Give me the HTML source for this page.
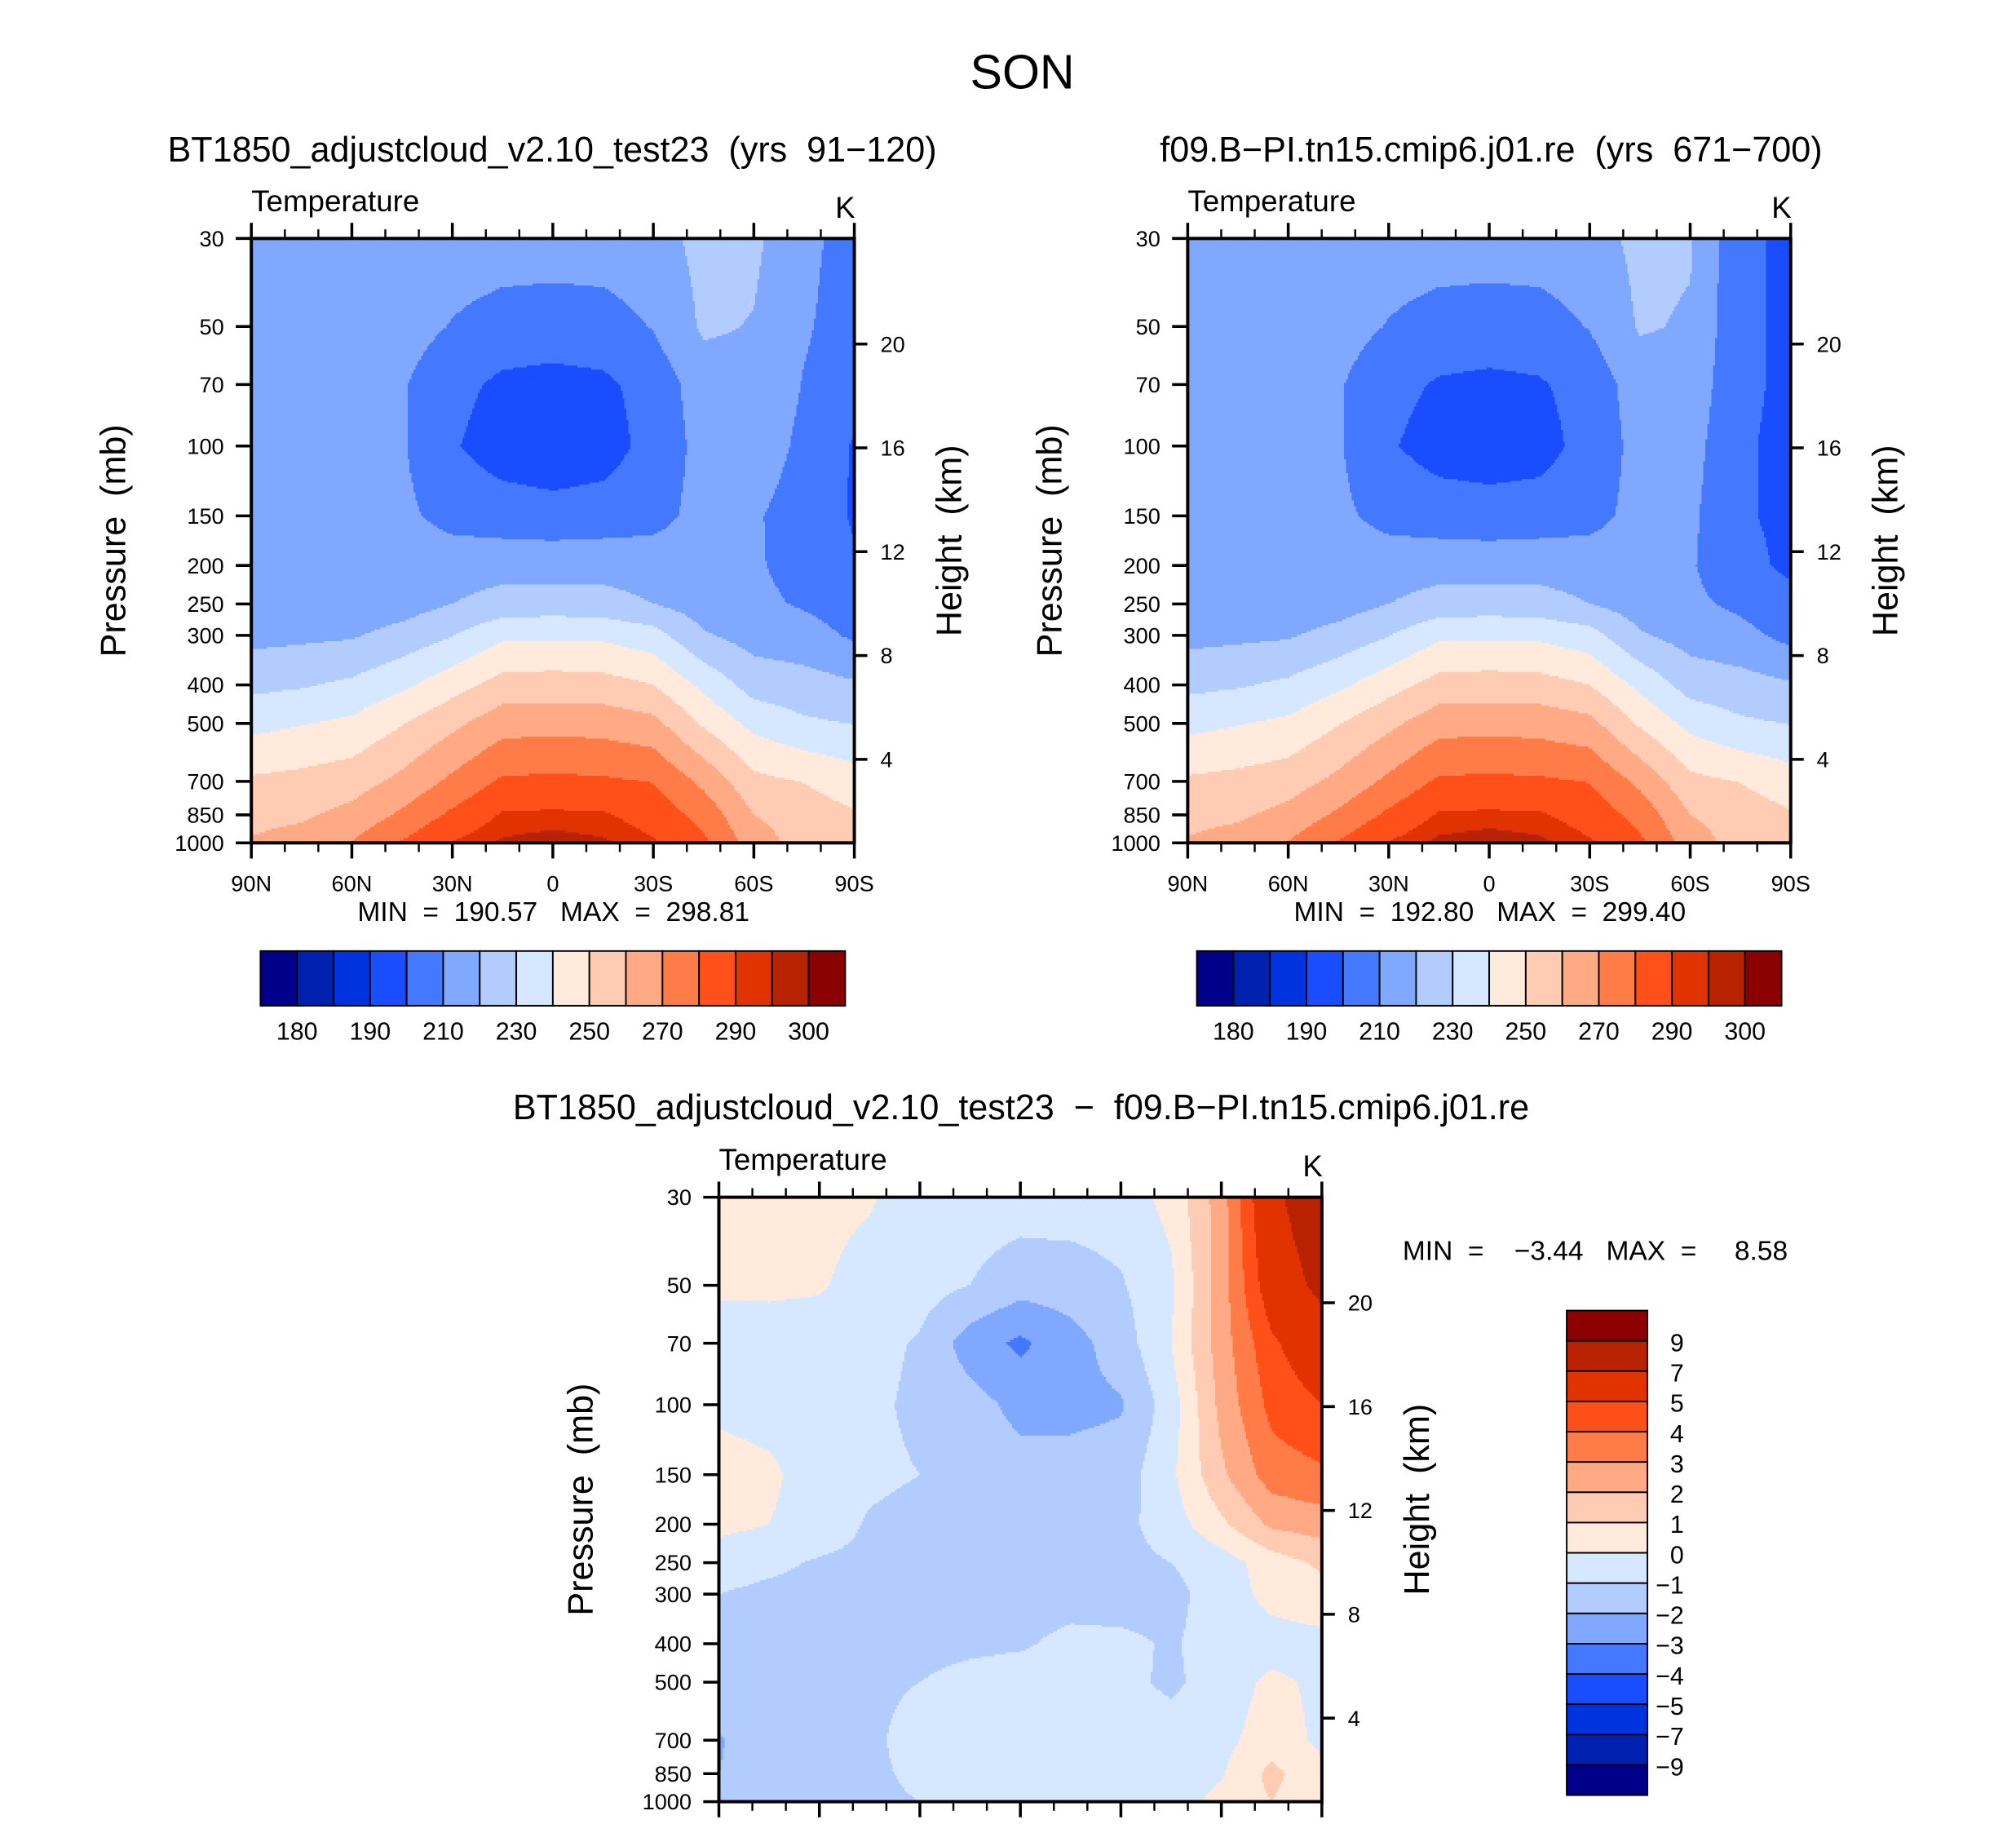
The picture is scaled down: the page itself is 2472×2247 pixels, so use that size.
<!DOCTYPE html>
<html><head><meta charset="utf-8">
<style>
html,body{margin:0;padding:0;background:#fff;}
svg{display:block;}
text{font-family:"Liberation Sans","DejaVu Sans",sans-serif;fill:#000;white-space:pre;}
</style></head>
<body>
<svg id="fig" xmlns="http://www.w3.org/2000/svg" width="2472" height="2247" viewBox="0 0 1548 1407">
<rect x="0" y="0" width="1548" height="1407" fill="#fff"/>
<text x="785" y="68" font-size="37" text-anchor="middle">SON</text>
<text x="424" y="124" font-size="27" text-anchor="middle">BT1850_adjustcloud_v2.10_test23  (yrs  91−120)</text>
<text x="1145" y="124" font-size="27" text-anchor="middle">f09.B−PI.tn15.cmip6.j01.re  (yrs  671−700)</text>
<text x="784" y="859" font-size="27" text-anchor="middle">BT1850_adjustcloud_v2.10_test23  −  f09.B−PI.tn15.cmip6.j01.re</text>
<g id="layer"></g>
</svg>
<script>
// ---- data ----
const lats = [90,75,60,45,30,15,0,-15,-30,-45,-60,-75,-90];
const pressures = [30,50,70,100,150,200,250,300,400,500,700,850,1000];
const latTicks = ["90N","60N","30N","0","30S","60S","90S"];
const kmTicks = [4,8,12,16,20];
const tempLevels = [180,185,190,200,210,220,230,240,250,260,270,280,290,295,300];
const tempLabels = ["180","190","210","230","250","270","290","300"];
const diffLevels = [-9,-7,-5,-4,-3,-2,-1,0,1,2,3,4,5,7,9];
const diffLabels = ["−9","−7","−5","−4","−3","−2","−1","0","1","2","3","4","5","7","9"];
const colors = ["#00008b","#0020b0","#0033e0","#1a4dff","#4478ff","#80a8ff","#b3ccff","#d6e8ff",
 "#ffeadb","#ffcbb3","#ffaa85","#ff7b47","#ff5019","#e03300","#b82200","#8b0000"];

const temp1 = [
[215,215,215,215,215,215,215,215,216,223,222,212,207],
[215,215,215,214,209.5,206,205,206,210.5,221.5,219.5,211,206],
[215,215,215,211,203,198,197,198,204,215,217,209.5,205],
[215,215,215,211,201,195,193,195,204,213,215,208,199],
[215,215,215,212,207,205,204,205,207,213,211,206,199],
[215,215,215,215,215,216,216,216,215,214,211,207,201],
[215,215.5,214,215.5,220,224,224.5,224,220,215,212,209,205],
[217,218,219,223.5,229.6,238,238.5,238,234,221,216,214,208.5],
[227.5,229,232,238,246,254,254.5,254,250,237.5,225.7,224,221.4],
[237,239.5,242,249.6,257.6,266,266.5,266,263,248.6,237,231.6,229.7],
[251.5,253,255.5,262.6,272.2,281.5,282,281.5,279.6,267.6,252.6,249.7,244.7],
[257,258.5,263,271.8,282,291,291.5,291,286,276.7,260,255,251],
[261,264,270.5,280.8,290.5,296,298,296,291,282,265,256,253]];
const temp2 = [
[215,215,215,215,215,215,215,215,216,222.5,221,202,198],
[215,215,215,214,209.5,206,205,206,210.5,221,219,202,198],
[215,215,215,211,203,199,198,199,204,215,216.5,202,198],
[215,215,215,211,201,196,195,196,204,213,214,201,198],
[215,215,215,212,207,205,204,205,207,213,212,201,198],
[215,215,215,215,215,216,216,216,215,214,211,203,198],
[215,215.5,214,215.5,220,224,224.5,224,220,215,212,208,203],
[217,218,219,223.5,229.6,238,238.5,238,234,221,216,213,207],
[227.5,229,232,238,246,254,254.5,254,250,237.5,225.7,224,221],
[237,239.5,242,249.6,257.6,266,266.5,266,263,248.6,237,231.6,229.7],
[251.5,253,255.5,262.6,272.2,281.5,282,281.5,279.6,267.6,252.6,249.7,244.7],
[257,258.5,263,271.8,282,291,291.5,291,286,276.7,260,255,251],
[261,264,270.5,280.8,290.5,296.5,298.5,296.5,291,282,265,256,253]];
const diffVals = [
[0.3,0.3,0.3,0.1,-0.5,-0.5,-0.5,-0.5,-0.5,0.3,2.5,6.5,8.5],
[0.2,0.2,0.1,-0.4,-0.6,-1.0,-1.6,-1.5,-1.1,-0.2,2.5,5.8,7.5],
[-0.6,-0.5,-0.5,-0.7,-1.1,-2.5,-3.2,-2.4,-1.5,0.0,2.5,4.8,6],
[-0.2,-0.4,-0.6,-0.8,-1.2,-1.6,-2.3,-2.3,-2.1,-0.5,2.3,4.3,5],
[0.4,0.2,-0.5,-0.8,-1.0,-1.5,-1.6,-1.6,-1.5,-0.2,1.8,3.5,3.8],
[0.3,0.0,-0.5,-1.1,-1.3,-1.4,-1.4,-1.4,-1.3,-0.5,0.8,2.2,2.5],
[-0.6,-0.8,-1.1,-1.2,-1.3,-1.3,-1.3,-1.3,-1.3,-1.0,-0.5,0.5,1.2],
[-1.0,-1.2,-1.3,-1.3,-1.3,-1.3,-1.3,-1.3,-1.4,-1.3,-0.5,0.3,0.6],
[-1.2,-1.3,-1.3,-1.3,-1.3,-1.2,-1.1,-0.8,-0.8,-1.1,-0.6,-0.4,-0.3],
[-1.3,-1.2,-1.2,-1.1,-1.0,-0.7,-0.6,-0.6,-0.7,-1.2,-0.5,0.2,-0.2],
[-2.1,-1.3,-1.2,-1.1,-0.8,-0.6,-0.5,-0.5,-0.5,-0.5,-0.3,0.5,-0.2],
[-2.0,-1.3,-1.2,-1.1,-0.9,-0.5,-0.5,-0.5,-0.5,-0.5,-0.1,1.3,0.2],
[-1.3,-1.1,-1.1,-1.1,-1.0,-0.5,-0.5,-0.5,-0.5,-0.5,0.3,1.0,0.2]];

const NS="http://www.w3.org/2000/svg";
const layer=document.getElementById('layer');
function mk(tag,attrs,parent){const e=document.createElementNS(NS,tag);for(const k in attrs)e.setAttribute(k,attrs[k]);(parent||layer).appendChild(e);return e;}
function txt(s,x,y,size,anchor,parent){const t=mk('text',{x:x,y:y,'font-size':size,'text-anchor':anchor||'middle'},parent);t.textContent=s;return t;}

const PW=463, PH=464;
function yOfP(p,y0){return y0+PH*Math.log(p/30)/Math.log(1000/30);}
function xOfLat(lat,x0){return x0+PW*(90-lat)/180;}
function pOfKm(z){return 1125*Math.exp(-z/6.64);}
function levelIdx(v,levels){let i=0;while(i<levels.length&&v>=levels[i])i++;return i;}

function drawPanel(x0,y0,grid,levels,name,minmax,mmPos){
  const g=mk('g',{});
  
  
  const field=mk('g',{'shape-rendering':'crispEdges'},g);
  
  
  const rowY=pressures.map(p=>yOfP(p,y0));
  const colX=lats.map(l=>xOfLat(l,x0));
  const step=1.5;
  const nx=Math.ceil(PW/step);
  for(let yy=y0;yy<y0+PH;yy+=step){
    const yc=Math.min(yy+step/2,y0+PH);
    const hh=Math.min(step,y0+PH-yy);
    let r=0;while(r<rowY.length-2&&yc>rowY[r+1])r++;
    const ty=(yc-rowY[r])/(rowY[r+1]-rowY[r]);
    let runStart=x0,runCol=null;
    for(let i=0;i<=nx;i++){
      const xx=x0+i*step;
      let col=null;
      if(i<nx){
        const xc=Math.min(xx+step/2,x0+PW);
        let c=0;while(c<colX.length-2&&xc>colX[c+1])c++;
        const tx=(xc-colX[c])/(colX[c+1]-colX[c]);
        const v=(1-ty)*((1-tx)*grid[r][c]+tx*grid[r][c+1])+ty*((1-tx)*grid[r+1][c]+tx*grid[r+1][c+1]);
        col=colors[levelIdx(v,levels)];
      }
      if(col!==runCol){
        if(runCol!==null){
          const xe=Math.min(xx,x0+PW);
          const rc=mk('rect',{x:runStart,y:yy,width:xe-runStart+0.4,height:hh+0.4,fill:runCol},field);
          
          
        }
        runStart=xx;runCol=col;
      }
    }
  }
  const fr=mk('rect',{x:x0,y:y0,width:PW,height:PH,fill:'none',stroke:'#000','stroke-width':2.5},g);
  
  
  for(let lat=90;lat>=-90;lat-=10){
    const x=xOfLat(lat,x0);const major=(lat%30===0);const L=major?12:7;
    mk('line',{x1:x,y1:y0,x2:x,y2:y0-L,stroke:'#000','stroke-width':major?2.2:1.5},g);
    mk('line',{x1:x,y1:y0+PH,x2:x,y2:y0+PH+L,stroke:'#000','stroke-width':major?2.2:1.5},g);
  }
  latTicks.forEach((s,i)=>{const t=txt(s,x0+PW*i/6,y0+PH+37,17,'middle',g);
    });
  pressures.forEach(p=>{const y=yOfP(p,y0);
    mk('line',{x1:x0,y1:y,x2:x0-12,y2:y,stroke:'#000','stroke-width':2.2},g);
    const t=txt(String(p),x0-21,y+6,17,'end',g);
    });
  kmTicks.forEach(z=>{const y=yOfP(pOfKm(z),y0);
    mk('line',{x1:x0+PW,y1:y,x2:x0+PW+10,y2:y,stroke:'#000','stroke-width':2.2},g);
    const t=txt(String(z),x0+PW+20,y+6,17,'start',g);
    });
  const lt=txt('Temperature',x0,y0-21,23,'start',g);
  
  const uk=txt('K',x0+PW-7,y0-16,23,'middle',g);
  
  const yt=txt('Pressure  (mb)',0,0,27,'middle',g);
  yt.setAttribute('transform','translate('+(x0-97)+','+(y0+232)+') rotate(-90)');
  
  const ht=txt('Height  (km)',0,0,27,'middle',g);
  ht.setAttribute('transform','translate('+(x0+PW+82)+','+(y0+232)+') rotate(-90)');
  
  const mm=txt(minmax,mmPos[0],mmPos[1],21,mmPos[2],g);
  
}

function hColorbar(x0,y0,name){
  const g=mk('g',{});
  
  
  const w=449/16;
  colors.forEach((c,i)=>{const r=mk('rect',{x:x0+i*w,y:y0,width:w,height:42,fill:c,stroke:'#000','stroke-width':1.2},g);
    });
  tempLabels.forEach((s,i)=>{const b=(i===tempLabels.length-1)?15:2*i+1;
    const t=txt(s,x0+b*w,y0+68,19,'middle',g);
    });
}
function vColorbar(x0,y0,name){
  const g=mk('g',{});
  
  
  const h=372/16;
  for(let i=0;i<16;i++){const c=colors[15-i];
    const r=mk('rect',{x:x0,y:y0+i*h,width:62,height:h,fill:c,stroke:'#000','stroke-width':1.2},g);
    }
  for(let j=0;j<diffLabels.length;j++){const s=diffLabels[diffLabels.length-1-j];
    const t=txt(s,x0+90,y0+(j+1)*h+8,19,'end',g);
    }
}

drawPanel(193,183,temp1,tempLevels,'panel1-temperature','MIN  =  190.57   MAX  =  298.81',[425,707,'middle']);
drawPanel(912,183,temp2,tempLevels,'panel2-temperature','MIN  =  192.80   MAX  =  299.40',[1144,707,'middle']);
drawPanel(552,919,diffVals,diffLevels,'panel3-difference','MIN  =    −3.44   MAX  =     8.58',[1077,967,'start']);
hColorbar(200,730,'panel1-colorbar');
hColorbar(919,730,'panel2-colorbar');
vColorbar(1203,1006,'diff-colorbar');
</script>
</body></html>
